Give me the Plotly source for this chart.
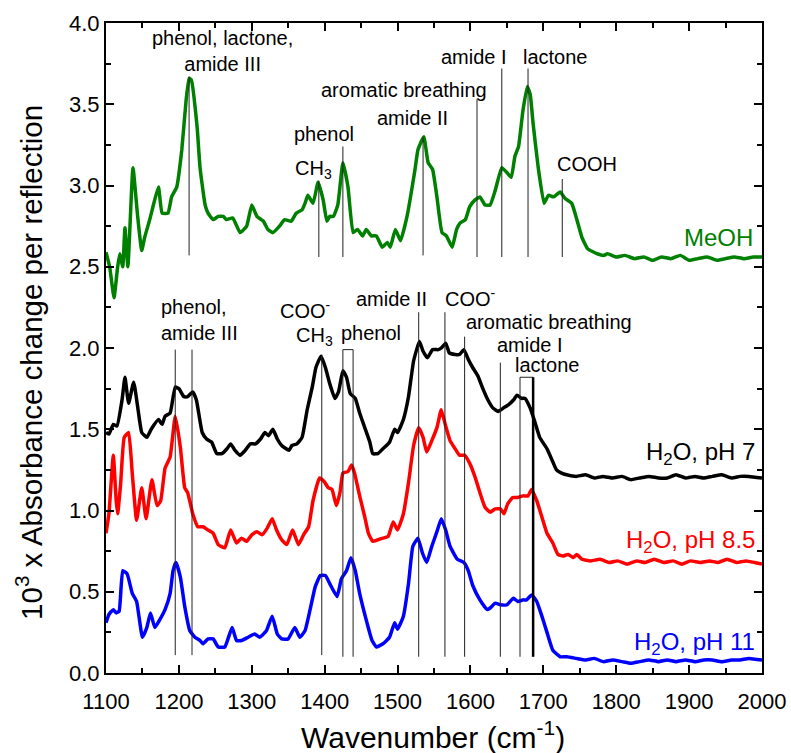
import plotly.graph_objects as go

# ---------------- data ----------------
meoh_x = [1100,1105,1111,1116,1119,1123,1126,1130,1137,1143,1149,1153,1160,1165,1172,1177,1185,1190,1197,1204,
          1210,1214,1217,1225,1229,1236,1240,1247,1254,1261,1265,1274,1284,1293,1300,1307,1316,1322,1329,1338,
          1345,1354,1361,1369,1373,1377,1384,1391,1398,1403,1407,1412,1418,1425,1432,1439,1445,1452,1457,1464,
          1471,1479,1486,1490,1497,1504,1513,1524,1528,1536,1542,1548,1554,1561,1567,1575,1581,1586,1593,1599,
          1606,1613,1620,1627,1634,1643,1650,1656,1661,1666,1672,1678,1682,1686,1693,1701,1707,1714,1723,1730,
          1739,1746,1753,1761,1774,1783,1788,1800,1812,1825,1838,1850,1862,1875,1888,1900,1912,1925,1938,1950,
          1962,1975,1988,2000]
meoh_y = [2.59,2.50,2.31,2.50,2.58,2.50,2.74,2.50,3.11,2.83,2.60,2.68,2.79,2.88,2.99,2.83,2.83,2.93,2.99,3.22,
          3.53,3.66,3.65,3.36,3.11,2.88,2.83,2.79,2.81,2.81,2.79,2.80,2.71,2.75,2.88,2.81,2.78,2.73,2.71,2.75,
          2.79,2.78,2.83,2.85,2.89,2.94,2.89,3.02,2.91,2.78,2.81,2.81,2.88,3.14,2.99,2.71,2.73,2.69,2.73,2.69,
          2.69,2.62,2.65,2.62,2.73,2.66,2.81,3.10,3.22,3.30,3.14,3.10,2.93,2.71,2.69,2.62,2.73,2.77,2.79,2.87,
          2.91,2.93,2.88,2.88,2.97,3.11,3.08,3.05,3.18,3.24,3.46,3.61,3.56,3.38,3.11,2.89,2.94,2.93,2.96,2.92,
          2.89,2.79,2.68,2.61,2.58,2.57,2.58,2.56,2.57,2.55,2.56,2.54,2.56,2.55,2.57,2.54,2.55,2.56,2.54,2.55,
          2.56,2.55,2.56,2.56]

ph7_x = [1100,1104,1110,1115,1122,1126,1131,1138,1144,1149,1156,1162,1172,1177,1181,1188,1195,1200,1207,1212,
         1219,1224,1232,1238,1245,1252,1259,1266,1271,1277,1284,1291,1298,1305,1312,1318,1323,1329,1335,1341,
         1351,1355,1362,1369,1376,1383,1388,1395,1401,1407,1414,1419,1425,1430,1435,1442,1448,1455,1462,1466,
         1473,1480,1489,1496,1500,1508,1515,1522,1530,1535,1541,1548,1556,1560,1566,1571,1579,1585,1591,1597,
         1603,1610,1617,1624,1631,1638,1645,1652,1659,1664,1670,1675,1682,1688,1695,1705,1712,1718,1725,1732,
         1745,1758,1770,1782,1795,1808,1820,1832,1845,1858,1870,1882,1895,1908,1920,1932,1945,1958,1970,1982,2000]
ph7_y = [1.48,1.47,1.53,1.52,1.68,1.82,1.66,1.79,1.62,1.48,1.45,1.50,1.56,1.53,1.58,1.60,1.76,1.75,1.70,1.70,
         1.73,1.68,1.48,1.44,1.42,1.35,1.35,1.38,1.41,1.37,1.34,1.37,1.41,1.41,1.44,1.48,1.46,1.50,1.44,1.40,
         1.37,1.40,1.41,1.45,1.62,1.76,1.88,1.95,1.88,1.78,1.69,1.73,1.86,1.82,1.72,1.69,1.60,1.51,1.42,1.35,
         1.35,1.38,1.42,1.50,1.48,1.56,1.70,1.92,2.04,1.98,1.94,1.99,1.99,2.00,2.03,1.97,1.96,1.96,1.99,1.93,
         1.88,1.83,1.75,1.68,1.63,1.61,1.63,1.65,1.68,1.71,1.69,1.69,1.63,1.55,1.45,1.38,1.31,1.25,1.23,1.22,
         1.21,1.22,1.20,1.21,1.20,1.21,1.19,1.20,1.21,1.20,1.20,1.22,1.20,1.21,1.20,1.21,1.22,1.20,1.21,1.21,1.20]

ph85_x = [1100,1104,1110,1114,1116,1120,1125,1131,1136,1142,1149,1155,1163,1170,1175,1181,1188,1195,1202,1208,
          1212,1219,1226,1233,1240,1247,1254,1263,1271,1279,1286,1293,1300,1307,1314,1321,1328,1334,1341,1348,
          1356,1364,1371,1378,1384,1393,1399,1405,1410,1416,1421,1425,1432,1437,1441,1448,1455,1460,1466,1473,
          1480,1487,1494,1500,1508,1515,1522,1529,1535,1540,1547,1554,1560,1566,1572,1579,1585,1592,1599,1606,
          1613,1620,1627,1634,1641,1646,1651,1658,1665,1672,1679,1684,1691,1698,1705,1713,1720,1727,1734,1741,
          1746,1753,1765,1778,1790,1802,1815,1828,1840,1852,1865,1878,1890,1902,1915,1928,1940,1952,1965,1978,
          1990,2000]
ph85_y = [0.86,0.98,1.34,1.06,0.98,1.16,1.45,1.48,1.23,0.94,1.14,0.95,1.19,1.03,1.06,1.26,1.33,1.58,1.39,1.14,
          1.11,0.98,0.90,0.90,0.88,0.86,0.79,0.77,0.88,0.80,0.83,0.81,0.85,0.87,0.85,0.89,0.95,0.88,0.82,0.79,
          0.88,0.79,0.85,0.90,1.06,1.20,1.18,1.14,1.13,1.03,1.11,1.23,1.24,1.28,1.23,1.09,0.96,0.86,0.81,0.82,
          0.83,0.84,0.93,0.88,0.98,1.17,1.40,1.51,1.45,1.36,1.43,1.51,1.62,1.52,1.43,1.38,1.34,1.34,1.29,1.21,
          1.11,1.02,0.99,1.01,1.01,0.98,1.04,1.08,1.08,1.09,1.09,1.13,1.06,0.96,0.86,0.80,0.73,0.72,0.73,0.71,
          0.73,0.70,0.69,0.70,0.68,0.69,0.67,0.69,0.68,0.70,0.68,0.69,0.67,0.69,0.68,0.69,0.68,0.70,0.68,0.69,
          0.68,0.67]

ph11_x = [1100,1104,1110,1114,1118,1123,1129,1136,1142,1150,1156,1161,1167,1174,1181,1188,1192,1196,1202,1208,
          1215,1222,1229,1233,1240,1247,1254,1263,1273,1279,1286,1295,1304,1311,1320,1328,1335,1341,1350,1359,
          1366,1373,1380,1387,1394,1401,1407,1417,1423,1430,1436,1442,1448,1458,1465,1471,1480,1489,1496,1500,
          1508,1515,1521,1528,1534,1540,1547,1554,1560,1566,1572,1582,1591,1597,1603,1613,1623,1627,1634,1641,
          1650,1659,1665,1672,1677,1684,1691,1698,1705,1713,1723,1732,1745,1758,1770,1782,1795,1808,1820,1832,
          1845,1858,1870,1882,1895,1908,1920,1932,1945,1958,1970,1982,2000]
ph11_y = [0.31,0.36,0.39,0.37,0.38,0.63,0.61,0.49,0.44,0.22,0.28,0.37,0.28,0.33,0.39,0.49,0.63,0.68,0.59,0.41,
          0.26,0.22,0.20,0.18,0.21,0.21,0.16,0.16,0.28,0.20,0.20,0.22,0.24,0.22,0.26,0.35,0.24,0.21,0.21,0.28,
          0.22,0.26,0.39,0.53,0.60,0.60,0.55,0.47,0.58,0.63,0.71,0.63,0.49,0.31,0.20,0.16,0.18,0.22,0.31,0.27,
          0.35,0.55,0.78,0.83,0.74,0.68,0.78,0.87,0.95,0.88,0.78,0.70,0.68,0.63,0.54,0.45,0.39,0.40,0.43,0.42,
          0.42,0.46,0.44,0.45,0.45,0.48,0.44,0.35,0.25,0.14,0.10,0.10,0.09,0.08,0.09,0.07,0.08,0.07,0.06,0.07,
          0.08,0.07,0.08,0.07,0.08,0.07,0.08,0.08,0.07,0.08,0.08,0.09,0.08]

series_names = ["MeOH", "H2O, pH 7", "H2O, pH 8.5", "H2O, pH 11"]
series_colors = ["#008000", "#000000", "#ff0000", "#0000ff"]

x_title = "Wavenumber (cm<sup>-1</sup>)"
y_title = "10<sup>3</sup> x Absorbance change per reflection"

# band marker lines: (wavenumber, y_bottom, y_top)
meoh_bands = [(1214, 2.57, 3.67), (1392, 2.56, 3.03), (1425, 2.56, 3.24), (1535, 2.57, 3.30),
              (1609, 2.56, 3.53), (1643, 2.56, 3.72), (1679, 2.56, 3.72), (1726, 2.56, 3.04)]
water_bands = [(1195, 0.11, 1.99), (1218, 0.11, 1.99), (1396, 0.11, 1.96), (1529, 0.10, 2.22),
               (1565, 0.10, 2.22), (1592, 0.10, 2.07), (1641, 0.10, 1.91)]
water_brackets = [(1425, 1439, 0.10, 1.99), (1668, 1686, 0.10, 1.82)]

# labels: (text, x, y, xanchor)
band_labels = [
    ("phenol, lactone,<br>amide III", 1260, 3.83, "center"),
    ("phenol", 1399, 3.32, "center"),
    ("CH<sub>3</sub>", 1357, 3.10, "left"),
    ("aromatic breathing", 1509, 3.59, "center"),
    ("amide II", 1520, 3.415, "center"),
    ("amide I", 1605, 3.79, "center"),
    ("lactone", 1717, 3.79, "center"),
    ("COOH", 1760, 3.13, "center"),
    ("phenol,<br>amide III", 1173, 2.17, "left"),
    ("COO<sup>-</sup>", 1336, 2.24, "left"),
    ("CH<sub>3</sub>", 1358, 2.07, "left"),
    ("phenol", 1464, 2.09, "center"),
    ("amide II", 1491, 2.30, "center"),
    ("COO<sup>-</sup>", 1562, 2.31, "left"),
    ("aromatic breathing", 1708, 2.16, "center"),
    ("amide I", 1682, 2.02, "center"),
    ("lactone", 1706, 1.895, "center"),
]
curve_labels = [
    ("MeOH", 1990, 2.68, "#008000"),
    ("H<sub>2</sub>O, pH 7", 1993, 1.35, "#000000"),
    ("H<sub>2</sub>O, pH 8.5", 1993, 0.81, "#ff0000"),
    ("H<sub>2</sub>O, pH 11", 1993, 0.18, "#0000ff"),
]

FONT = "Liberation Sans, Arial, sans-serif"

fig = go.Figure()
for xs, ys, name, col in zip([meoh_x, ph7_x, ph85_x, ph11_x], [meoh_y, ph7_y, ph85_y, ph11_y],
                             series_names, series_colors):
    fig.add_trace(go.Scatter(x=xs, y=ys, mode="lines", name=name,
                             line=dict(color=col, width=3.5, shape="spline", smoothing=0.4)))

shapes = []
for wx, y0, y1 in meoh_bands + water_bands:
    shapes.append(dict(type="line", xref="x", yref="y", x0=wx, x1=wx, y0=y0, y1=y1,
                       line=dict(color="#222222", width=1)))
for xa, xb, y0, y1 in water_brackets:
    shapes.append(dict(type="path", xref="x", yref="y",
                       path=f"M {xa},{y0} L {xa},{y1} L {xb},{y1} L {xb},{y0}",
                       line=dict(color="#222222", width=1)))
# thick line at the lactone band of the water spectra
shapes.append(dict(type="line", xref="x", yref="y", x0=water_brackets[1][1], x1=water_brackets[1][1],
                   y0=water_brackets[1][2], y1=water_brackets[1][3], line=dict(color="#000000", width=2.5)))

annotations = []
for txt, x, y, xa in band_labels:
    annotations.append(dict(text=txt, x=x, y=y, xref="x", yref="y", xanchor=xa, yanchor="middle",
                            showarrow=False, align=xa,
                            font=dict(family=FONT, size=20, color="#000000")))
for txt, x, y, col in curve_labels:
    annotations.append(dict(text=txt, x=x, y=y, xref="x", yref="y", xanchor="right", yanchor="middle",
                            showarrow=False, font=dict(family=FONT, size=24, color=col)))
# axis titles
annotations.append(dict(text=x_title, x=0.4992, y=-0.0954, xref="paper", yref="paper",
                        xanchor="center", yanchor="middle", showarrow=False,
                        font=dict(family=FONT, size=30, color="black")))
annotations.append(dict(text=y_title, x=-0.118, y=0.478, xref="paper", yref="paper", textangle=-90,
                        xanchor="center", yanchor="middle", showarrow=False,
                        font=dict(family=FONT, size=29.5, color="black")))

fig.update_layout(
    width=791, height=753,
    margin=dict(l=106, r=29, t=23, b=80, autoexpand=False),
    paper_bgcolor="white", plot_bgcolor="white",
    showlegend=False,
    font=dict(family=FONT, color="black"),
    shapes=shapes, annotations=annotations,
)
fig.update_xaxes(range=[1100, 2000], dtick=100, tick0=1100, ticks="inside", ticklen=8, tickwidth=1.5,
                 tickcolor="black", showline=True, linecolor="black", linewidth=2, mirror="allticks",
                 showgrid=False, zeroline=False, tickfont=dict(family=FONT, size=22),
                 ticklabelstandoff=8, automargin=False,
                 minor=dict(ticks="inside", ticklen=5, dtick=50, tickcolor="black", tickwidth=1.5))
fig.update_yaxes(range=[0, 4], dtick=0.5, tick0=0, tickformat=".1f", ticks="inside", ticklen=8, tickwidth=1.5,
                 tickcolor="black", showline=True, linecolor="black", linewidth=2, mirror="allticks",
                 showgrid=False, zeroline=False, tickfont=dict(family=FONT, size=22), automargin=False,
                 minor=dict(ticks="inside", ticklen=5, dtick=0.25, tickcolor="black", tickwidth=1.5))

fig.write_html("out.html")
